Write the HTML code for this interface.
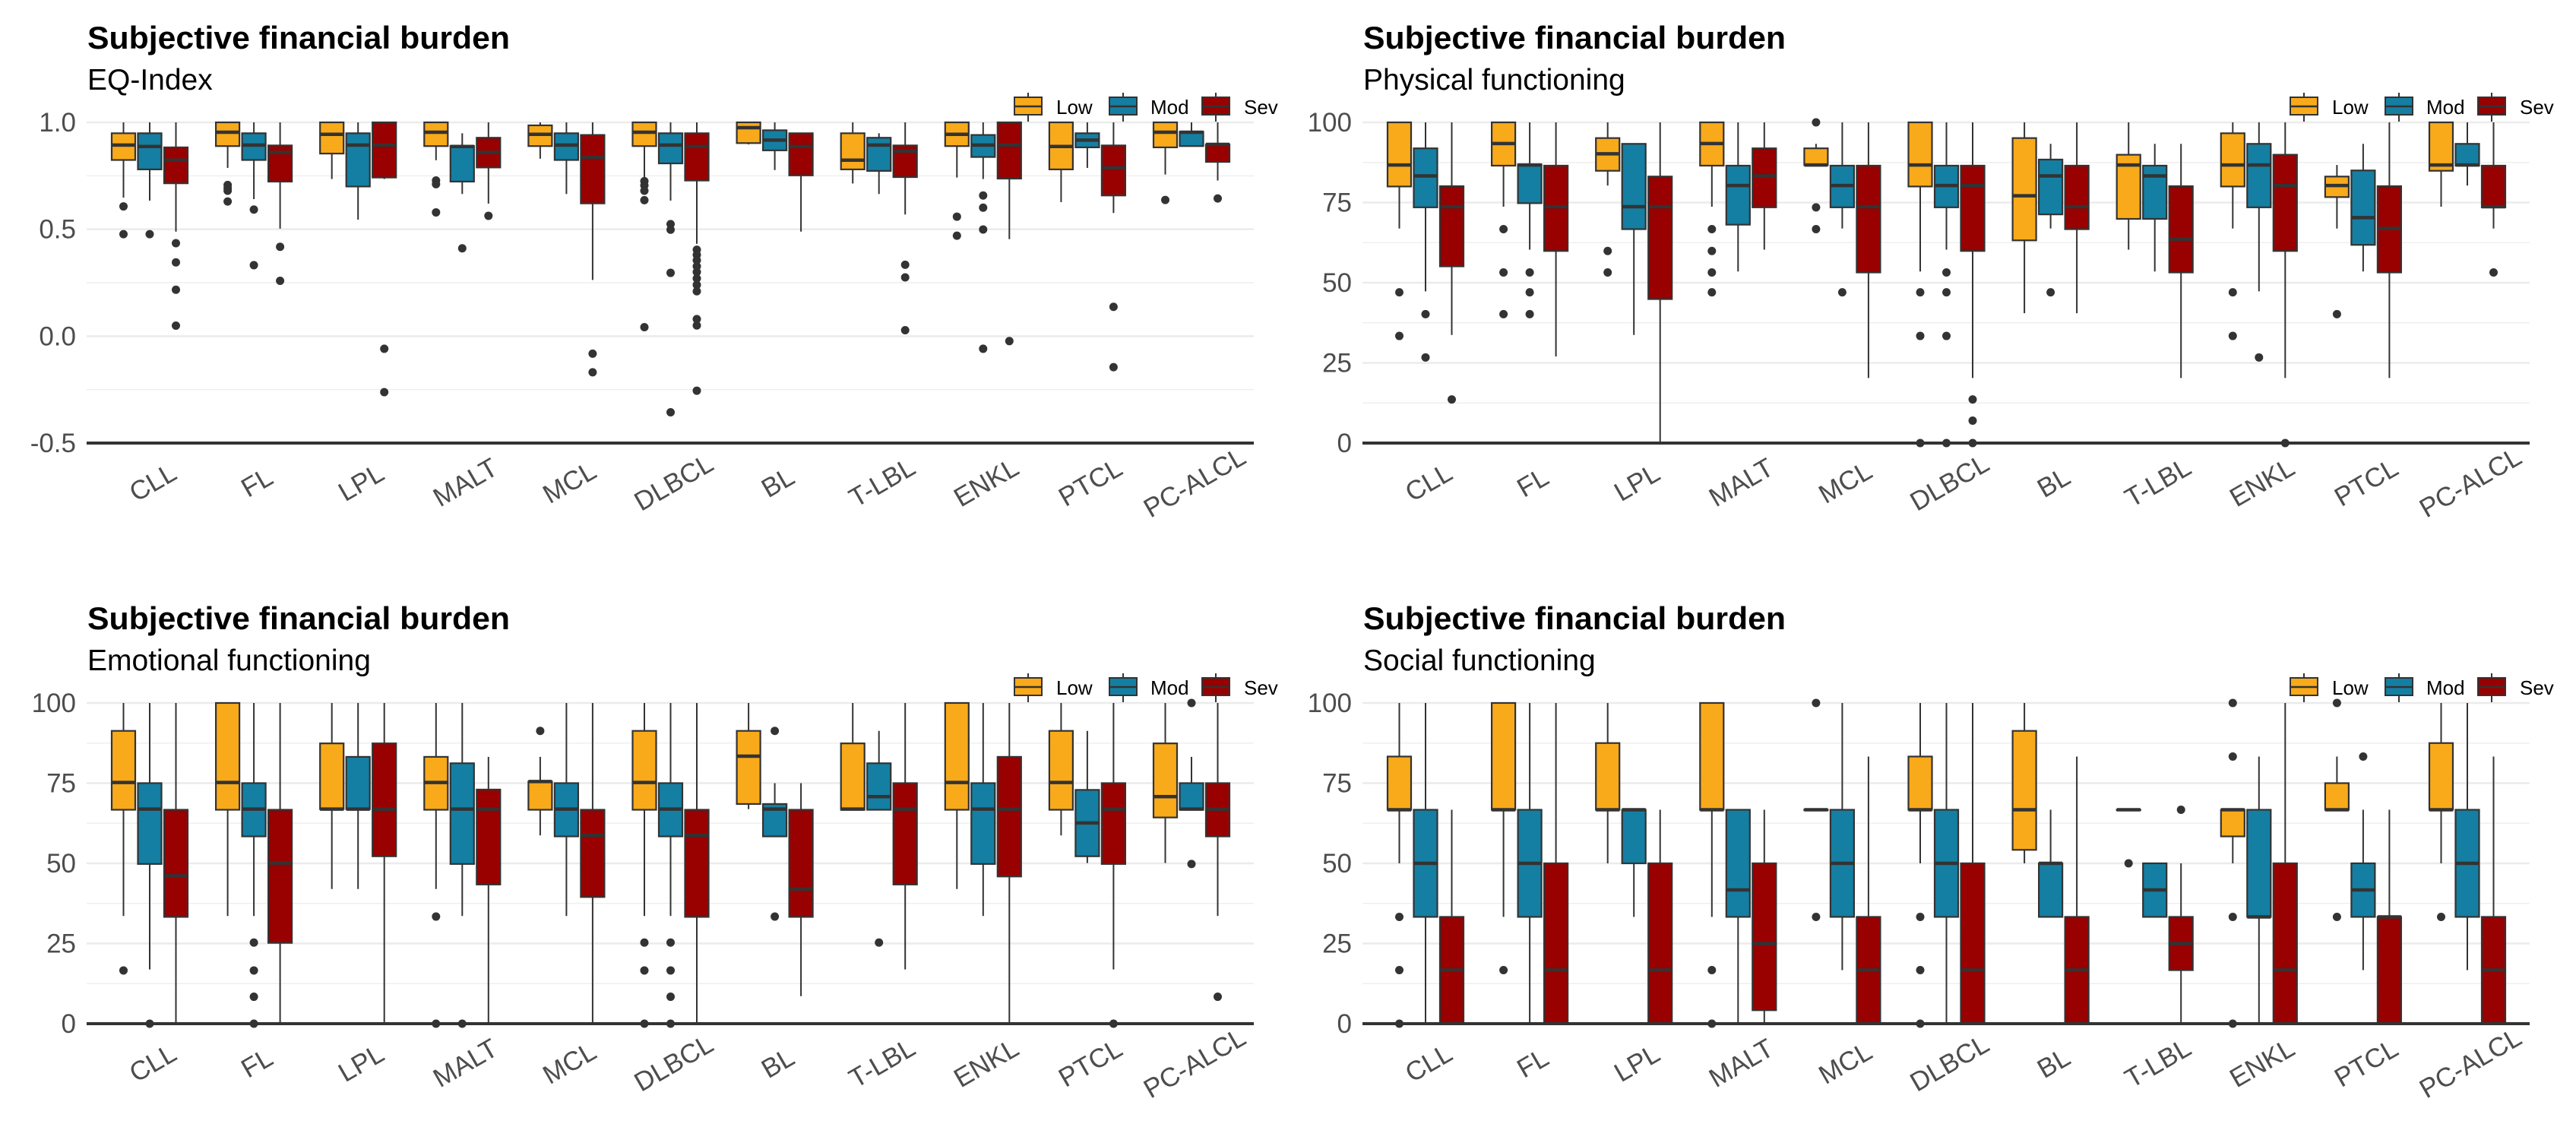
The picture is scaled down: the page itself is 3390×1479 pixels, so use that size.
<!DOCTYPE html>
<html><head><meta charset="utf-8"><style>
html,body{margin:0;padding:0;background:#fff;}
svg{display:block;font-family:"Liberation Sans",Arial,sans-serif;}
</style></head><body>
<svg id="chart" width="3390" height="1479" viewBox="0 0 3390 1479" xmlns="http://www.w3.org/2000/svg"></svg>
<script>
const categories = ["CLL","FL","LPL","MALT","MCL","DLBCL","BL","T-LBL","ENKL","PTCL","PC-ALCL"];
const groups = ["Low","Mod","Sev"];
const eqTicks = [1.0,0.5,0.0,-0.5];
const eqTickLabels = ["1.0","0.5","0.0","-0.5"];
const pctTicks = [100,75,50,25,0];
const pctTickLabels = ["100","75","50","25","0"];
// [lower whisker, q1, median, q3, upper whisker]
const eqLow = [[.648,.824,.894,.949,1],[.787,.889,.954,1,1],[.735,.854,.944,1,1],[.823,.889,.954,1,1],[.83,.889,.944,.986,1],[.74,.889,.954,1,1],[.897,.903,.975,1,1],[.714,.78,.823,.949,1],[.742,.889,.944,1,1],[.627,.78,.887,1,1],[.756,.883,.954,1,1]];
const eqLowOut = [[.607,.477],[.707,.693,.68,.63],[],[.728,.711,.579],[],[.725,.705,.68,.636,.042],[],[],[.559,.47],[],[.637]];
const eqMod = [[.634,.78,.887,.949,1],[.641,.824,.894,.949,1],[.545,.7,.894,.949,1],[.665,.723,.887,.89,.949],[.665,.824,.894,.949,1],[.634,.808,.894,.949,1],[.777,.869,.917,.963,1],[.665,.773,.894,.928,.949],[.735,.838,.894,.941,1],[.787,.883,.917,.949,1],[.889,.889,.954,.956,1]];
const eqModOut = [[.477],[.592,.332],[],[.411],[],[.524,.498,.296,-.356],[],[],[.658,.601,.499,-.059],[],[]];
const eqSev = [[.489,.715,.823,.883,1],[.503,.723,.859,.892,1],[.735,.742,.894,1,1],[.62,.789,.859,.928,1],[.263,.621,.837,.941,1],[.432,.728,.887,.949,1],[.489,.752,.887,.949,.949],[.569,.744,.866,.892,1],[.454,.737,.894,1,1],[.576,.658,.787,.892,1],[.728,.815,.897,.897,1]];
const eqSevOut = [[.435,.345,.217,.049],[.418,.259],[-.059,-.262],[.563],[-.082,-.169],[.404,.38,.355,.327,.3,.27,.24,.21,.08,.05,-.255],[],[.334,.275,.028],[-.023],[.137,-.145],[.644]];

const pfLow = [[66.9,80,86.7,100,100],[73.7,86.5,93.4,100,100],[80.3,84.9,90.2,95.1,100],[73.7,86.5,93.4,100,100],[86.7,86.7,86.7,91.9,93.3],[53.5,80,86.7,100,100],[40.5,63.2,77.1,95.1,100],[60.3,69.9,86.7,89.9,100],[66.9,80,86.7,96.6,100],[66.9,76.7,80.3,83.1,86.7],[73.7,84.9,86.7,100,100]];
const pfLowOut = [[47,33.4],[66.7,53.2,40.2],[59.9,53.2],[66.7,59.9,53.2,47],[100,73.5,66.7],[47,33.4,0],[],[],[47,33.4],[40.2],[]];
const pfMod = [[47.3,73.5,83.3,91.9,100],[60.3,74.8,86.7,86.9,100],[33.7,66.7,73.7,93.3,93.3],[53.5,68.1,80.3,86.5,100],[66.9,73.5,80.3,86.5,100],[60.3,73.5,80.3,86.5,100],[66.9,71.3,83.3,88.4,93.3],[53.5,69.9,83.3,86.5,93.3],[47.3,73.5,86.7,93.3,100],[53.5,61.8,70.3,85,93.3],[80.3,86.5,86.7,93.3,100]];
const pfModOut = [[40.2,26.7],[53.2,47,40.2],[],[],[47],[53.2,47,33.4,0],[47],[],[26.7],[],[]];
const pfSev = [[33.7,55.1,73.7,80.1,100],[27,59.9,73.7,86.5,100],[0,44.9,73.7,83.1,100],[60.3,73.5,83.3,91.9,100],[20.3,53.2,73.7,86.5,100],[20.3,59.9,80.3,86.5,100],[40.5,66.7,73.7,86.5,100],[20.3,53.2,63.6,80.1,93.3],[20.3,59.9,80.3,89.9,100],[20.3,53.2,66.9,80.1,100],[66.9,73.5,73.7,86.5,100]];
const pfSevOut = [[13.6],[],[],[],[],[13.6,7,0],[],[],[0],[],[53.2]];

const efLow = [[33.6,66.7,75.2,91.3,100],[33.6,66.7,75.2,100,100],[42,66.9,66.9,87.4,100],[42,66.7,75.2,83.2,100],[58.7,66.7,75.5,75.5,83.2],[33.6,66.7,75.2,91.3,100],[66.9,68.5,83.4,91.3,100],[66.7,66.7,66.9,87.4,100],[42,66.7,75.2,100,100],[58.7,66.7,75.2,91.3,100],[50.1,64.3,70.8,87.4,100]];
const efLowOut = [[16.6],[],[],[33.4,0],[91.3],[25.3,16.6,0],[],[],[],[],[]];
const efMod = [[16.9,49.8,66.9,75,100],[33.6,58.4,66.9,75,100],[42,66.9,66.9,83.2,100],[33.6,49.8,66.9,81.2,100],[33.6,58.4,66.9,75,100],[33.6,58.4,66.9,75,100],[58.4,58.4,66.9,68.5,75],[66.7,66.7,70.8,81.2,91.3],[33.6,49.8,66.9,75,100],[50.1,52.2,62.6,72.9,91.3],[66.7,66.7,66.9,75,83.2]];
const efModOut = [[0],[25.3,16.6,8.4,0],[],[0],[],[25.3,16.6,8.4,0],[91.3,33.4],[25.3],[],[],[100,49.8]];
const efSev = [[0,33.3,46.1,66.7,100],[0,25.2,50.1,66.7,100],[0,52.2,66.9,87.4,100],[0,43.4,66.9,73,83.2],[0,39.5,58.7,66.7,100],[0,33.3,58.7,66.7,100],[8.6,33.3,42,66.7,75],[16.9,43.4,66.9,75,100],[0,45.9,66.9,83.2,100],[16.9,49.8,66.9,75,100],[33.6,58.4,66.9,75,100]];
const efSevOut = [[],[],[],[],[],[],[],[],[],[0],[8.4]];

const sfLow = [[50,66.7,66.7,83.3,100],[33.3,66.7,66.7,100,100],[50,66.7,66.7,87.5,100],[33.3,66.7,66.7,100,100],[66.7,66.7,66.7,66.7,66.7],[50,66.7,66.7,83.3,100],[50,54.2,66.7,91.3,100],[66.7,66.7,66.7,66.7,66.7],[50,58.4,66.7,66.7,66.7],[66.7,66.7,66.7,75,83.3],[50,66.7,66.7,87.5,100]];
const sfLowOut = [[33.3,16.7,0],[16.7],[],[16.7,0],[100,33.3],[33.3,16.7,0],[],[50],[100,83.3,33.3,0],[100,33.3],[33.3]];
const sfMod = [[0,33.3,50,66.7,100],[0,33.3,50,66.7,100],[33.3,50,66.7,66.7,66.7],[0,33.3,41.7,66.7,66.7],[16.7,33.3,50,66.7,100],[0,33.3,50,66.7,100],[33.3,33.3,50,50,66.7],[33.3,33.3,41.7,50,50],[0,33.3,33.3,66.7,83.3],[16.7,33.3,41.7,50,66.7],[16.7,33.3,50,66.7,100]];
const sfModOut = [[],[],[],[],[],[],[],[],[],[83.3],[]];
const sfSev = [[0,0,16.7,33.3,66.7],[0,0,16.7,50,100],[0,0,16.7,50,66.7],[0,4.2,25,50,66.7],[0,0,16.7,33.3,83.3],[0,0,16.7,50,100],[0,0,16.7,33.3,83.3],[0,16.7,25,33.3,50],[0,0,16.7,50,100],[0,0,33.3,33.3,66.7],[0,0,16.7,33.3,83.3]];
const sfSevOut = [[],[],[],[],[],[],[],[66.7],[],[],[]];

const colors = ["#F8AA1A","#147FA2","#990000"];
const NS = "http://www.w3.org/2000/svg";
const svg = document.getElementById("chart");
function mk(tag, attrs, parent){const e=document.createElementNS(NS,tag);for(const k in attrs)e.setAttribute(k,attrs[k]);(parent||svg).appendChild(e);return e;}

const panels = [
 {key:"eq", sub:"EQ-Index", L:0, T:0, min:-0.5, max:1.0, ticks:eqTicks, labels:eqTickLabels, minor:[0.75,0.25,-0.25], data:[eqLow,eqMod,eqSev], outs:[eqLowOut,eqModOut,eqSevOut]},
 {key:"pf", sub:"Physical functioning", L:1679, T:0, min:0, max:100, ticks:pctTicks, labels:pctTickLabels, minor:[87.5,62.5,37.5,12.5], data:[pfLow,pfMod,pfSev], outs:[pfLowOut,pfModOut,pfSevOut]},
 {key:"ef", sub:"Emotional functioning", L:0, T:764, min:0, max:100, ticks:pctTicks, labels:pctTickLabels, minor:[87.5,62.5,37.5,12.5], data:[efLow,efMod,efSev], outs:[efLowOut,efModOut,efSevOut]},
 {key:"sf", sub:"Social functioning", L:1679, T:764, min:0, max:100, ticks:pctTicks, labels:pctTickLabels, minor:[87.5,62.5,37.5,12.5], data:[sfLow,sfMod,sfSev], outs:[sfLowOut,sfModOut,sfSevOut]}
];

panels.forEach(p=>{
  const g = mk("g",{});
  
  
  const L=p.L, T=p.T;
  const y = v => T + 161 + (p.max - v)/(p.max - p.min)*422;
  const x = (i,k) => L + 197 + i*137.1 + (k-1)*34.5;
  const x0 = L+114, x1 = L+1650;
  const t = mk("text",{x:L+115,y:T+64,"font-size":42,"font-weight":"bold",fill:"#000",textLength:556,lengthAdjust:"spacingAndGlyphs"},g);
  t.textContent="Subjective financial burden";
  
  
  const s = mk("text",{x:L+115,y:T+118,"font-size":39,fill:"#000"},g);
  s.textContent=p.sub;
  
  
  p.minor.forEach(v=>{ mk("line",{x1:x0,x2:x1,y1:y(v),y2:y(v),stroke:"#EFEFEF","stroke-width":1.5},g); });
  p.ticks.forEach((v,j)=>{
    if (v!==p.min) mk("line",{x1:x0,x2:x1,y1:y(v),y2:y(v),stroke:"#EBEBEB","stroke-width":2.5},g);
    const tl = mk("text",{x:L+100,y:y(v)+12,"font-size":35,fill:"#4D4D4D","text-anchor":"end"},g);
    tl.textContent=p.labels[j];
    
    
  });
  categories.forEach((c,i)=>{
    for(let k=0;k<3;k++){
      const d=p.data[k][i]; const cx=x(i,k); const w=31;
      const bg = mk("g",{},g);
      
      
      mk("line",{x1:cx,x2:cx,y1:y(d[4]),y2:y(d[3]),stroke:"#333","stroke-width":2},bg);
      mk("line",{x1:cx,x2:cx,y1:y(d[1]),y2:y(d[0]),stroke:"#333","stroke-width":2},bg);
      mk("rect",{x:cx-w/2,y:y(d[3]),width:w,height:Math.max(0.5,y(d[1])-y(d[3])),fill:colors[k],stroke:"#333","stroke-width":2.2},bg);
      mk("line",{x1:cx-w/2,x2:cx+w/2,y1:y(d[2]),y2:y(d[2]),stroke:"#333","stroke-width":4.5},bg);
      p.outs[k][i].forEach(o=>{
        const pt = mk("circle",{cx:cx,cy:y(o),r:5.5,fill:"#333"},bg);
        
        
      });
    }
    const xl = mk("text",{"font-size":35,fill:"#4D4D4D","text-anchor":"middle",transform:`translate(${L+207+i*137.1},${T+645}) rotate(-30)`},g);
    xl.textContent=c;
    
    
  });
  const ax = mk("line",{x1:x0,x2:x1,y1:y(p.min),y2:y(p.min),stroke:"#333","stroke-width":4},g);
  
  
  const lx=[1335,1460,1582], tx=[1390,1514,1637];
  groups.forEach((gn,k)=>{
    const lg = mk("g",{},g);
    
    
    const cx=L+lx[k]+18;
    mk("line",{x1:cx,x2:cx,y1:T+122,y2:T+160,stroke:"#333","stroke-width":2},lg);
    mk("rect",{x:L+lx[k],y:T+128,width:36,height:23,fill:colors[k],stroke:"#333","stroke-width":2},lg);
    mk("line",{x1:L+lx[k],x2:L+lx[k]+36,y1:T+140,y2:T+140,stroke:"#333","stroke-width":2.5},lg);
    const lt = mk("text",{x:L+tx[k],y:T+150,"font-size":26,fill:"#000"},lg);
    lt.textContent=gn;
  });
});
</script>
</body></html>
